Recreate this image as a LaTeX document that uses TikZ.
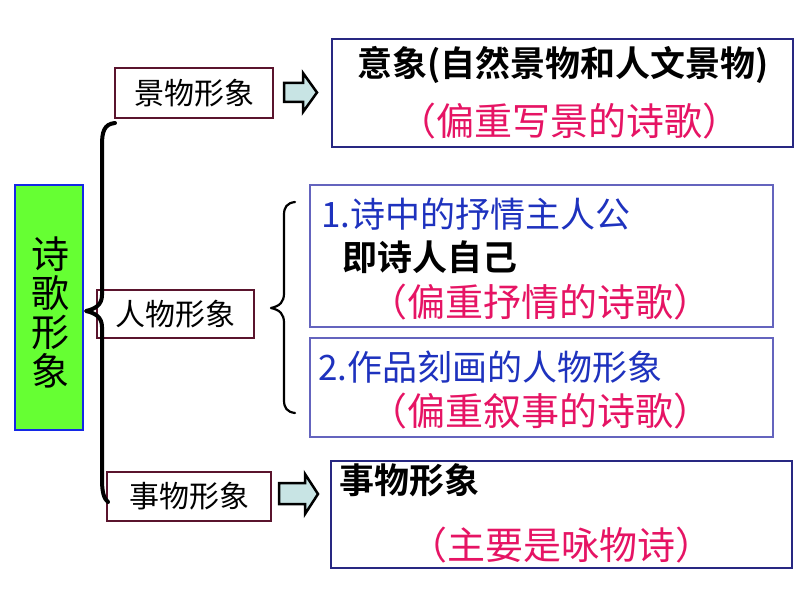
\documentclass[tikz,border=0pt]{standalone}
\usepackage{fontspec}
\newfontfamily\cjk{Noto Sans CJK SC}
\newfontfamily\cjkb{Noto Sans CJK SC Bold}
\definecolor{gfill}{RGB}{102,255,51}
\definecolor{gborder}{RGB}{20,40,230}
\definecolor{maroon}{RGB}{90,20,45}
\definecolor{navy}{RGB}{40,40,130}
\definecolor{violetb}{RGB}{100,100,190}
\definecolor{redt}{RGB}{230,20,100}
\definecolor{bluet}{RGB}{30,50,190}
\definecolor{afill}{RGB}{200,228,228}
\tikzset{
  catbox/.style={draw=maroon, line width=2.2pt, fill=white},
  infobox/.style={draw=navy, line width=1.2pt, fill=white},
  infobox2/.style={draw=violetb, line width=1.2pt, fill=white},
  txt/.style={inner sep=0pt, font=\cjk\fontsize{35}{40}\selectfont},
  redtxt/.style={inner sep=0pt, text=redt, font=\cjk\fontsize{38}{42}\selectfont},
  cattxt/.style={inner sep=0pt, font=\cjk\fontsize{30}{32}\selectfont},
  bigarrow/.style={draw=black, line width=2.5pt, fill=afill, line join=miter},
  brace/.style={draw=black, line cap=round, line join=round},
}
\begin{document}
\begin{tikzpicture}[x=1pt,y=-1pt]
\useasboundingbox (0,0) rectangle (794,596);
% main box
\draw[fill=gfill, draw=gborder, line width=2.5pt] (15,185) rectangle (83,430);
\node (main) [inner sep=0pt, align=center, font=\cjk\fontsize{38}{39}\selectfont] at (50,312) {诗\\歌\\形\\象};
% category boxes
\draw[catbox] (115,68) rectangle (273,118);
\node (c1) [cattxt] at (194,93) {景物形象};
\draw[catbox] (97,290) rectangle (254,338);
\node (c2) [cattxt] at (175.5,314) {人物形象};
\draw[catbox] (107,472) rectangle (271,521);
\node (c3) [cattxt] at (189,496.5) {事物形象};
% big brace
\draw[brace, line width=4pt] (115,123) .. controls (104,124) and (102,132) .. (102,145)
  -- (102,295) .. controls (102,305) and (95,309) .. (86,311)
  .. controls (95,313) and (102,317) .. (102,327)
  -- (102,480) .. controls (102,492) and (104,499) .. (108,502);
% info boxes
\draw[infobox] (332,39) rectangle (793,147);
\node (i1a) [txt, anchor=west] at (357,65) {\cjkb 意象(自然景物和人文景物)};
\node (i1b) [redtxt] at (569,121) {（偏重写景的诗歌）};
\draw[infobox2] (310,185) rectangle (773,327);
\node (i2a) [txt, anchor=west, text=bluet] at (321,214) {1.诗中的抒情主人公};
\node (i2b) [txt, anchor=west] at (342,257.5) {\cjkb 即诗人自己};
\node (i2c) [redtxt] at (540,302) {（偏重抒情的诗歌）};
\draw[infobox2] (310,338) rectangle (773,437);
\node (i3a) [txt, anchor=west, text=bluet] at (318,367) {2.作品刻画的人物形象};
\node (i3b) [redtxt] at (540,411) {（偏重叙事的诗歌）};
\draw[infobox] (331,461) rectangle (792,568);
\node (i4a) [txt, anchor=west] at (339,480) {\cjkb 事物形象};
\node (i4b) [redtxt] at (561,545) {（主要是咏物诗）};
% small brace
\draw[brace, line width=2.2pt] (295,202) .. controls (287,203) and (284,207) .. (284,215)
  -- (284,293) .. controls (284,302) and (280,306) .. (271,308)
  .. controls (280,310) and (284,314) .. (284,323)
  -- (284,400) .. controls (284,408) and (287,412) .. (295,413);
% arrows
\draw[bigarrow] (284,83) -- (303,83) -- (303,73) -- (317,92.5) -- (303,112) -- (303,102) -- (284,102) -- cycle;
\draw[bigarrow] (279,483) -- (305,483) -- (305,474) -- (318,494) -- (305,514) -- (305,504) -- (279,504) -- cycle;
\end{tikzpicture}
\end{document}
